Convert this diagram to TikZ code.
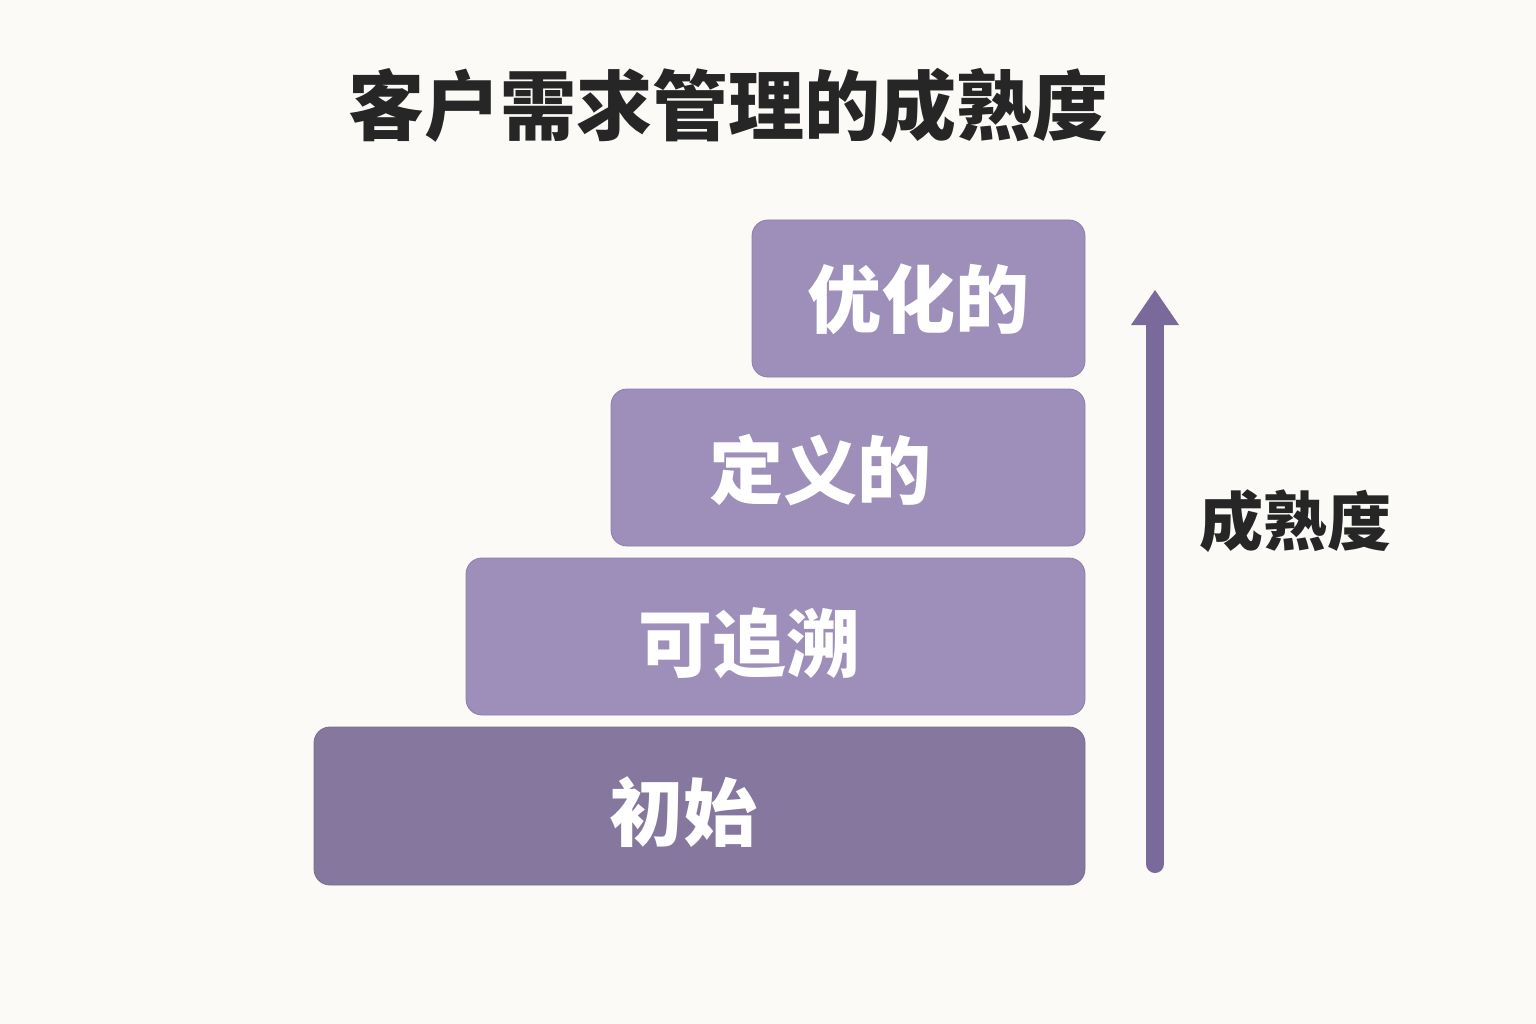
\documentclass[tikz,border=0pt]{standalone}
\usepackage{fontspec}
\setmainfont{Noto Sans CJK SC}
\definecolor{bg}{HTML}{FBFAF6}
\definecolor{lvl}{HTML}{9D8FB9}
\definecolor{lvldark}{HTML}{85779E}
\definecolor{lvledge}{HTML}{8C7EAA}
\definecolor{arrowc}{HTML}{7A6A9B}
\definecolor{titlec}{HTML}{262626}
\begin{document}
\begin{tikzpicture}[x=1pt,y=-1pt,
  level/.style={rounded corners=16pt, fill=lvl, draw=lvledge, line width=0.8pt},
  leveltext/.style={text=white, font=\fontsize{74}{80}\selectfont\bfseries, inner sep=0pt},
]
\useasboundingbox[fill=bg] (0,0) rectangle (1536,1024);
\node[text=titlec, font=\fontsize{76}{82}\selectfont\bfseries, inner sep=0pt] (title) at (728,106) {客户需求管理的成熟度};

\path[level] (752,220) rectangle (1085,377);
\path[level] (611,389) rectangle (1085,546);
\path[level] (466,558) rectangle (1085,715);
\path[level, fill=lvldark, draw=lvldark!90!black] (314,727) rectangle (1085,885);

\node[leveltext] (l4) at (918,299) {优化的};
\node[leveltext] (l3) at (820,470) {定义的};
\node[leveltext] (l2) at (749,643) {可追溯};
\node[leveltext] (l1) at (683,812) {初始};

\coordinate (abot) at (1155,864);
\coordinate (atop) at (1155,322);
\draw[arrowc, line width=18pt, line cap=round] (abot) -- (atop);
\fill[arrowc] (1131,325) -- (1155,290) -- (1179,325) -- cycle;

\node[text=titlec, font=\fontsize{64}{70}\selectfont\bfseries, inner sep=0pt] (mlabel) at (1295,521) {成熟度};
\end{tikzpicture}
\end{document}
